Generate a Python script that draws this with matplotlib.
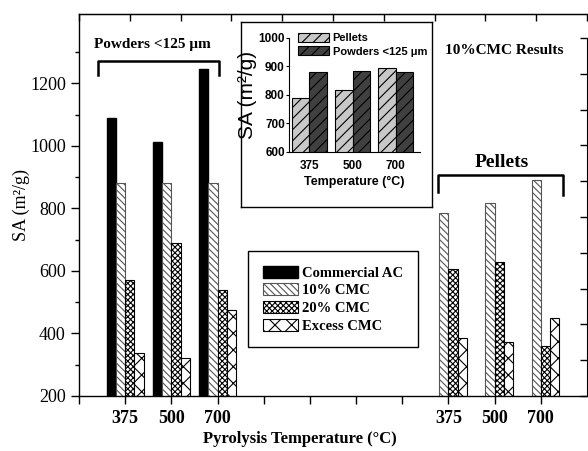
import matplotlib
matplotlib.use('Agg')
import matplotlib.pyplot as plt
import numpy as np

temps = ['375', '500', '700']
powder_ac = [1089, 1013, 1245]
powder_10 = [880, 882, 880]
powder_20 = [572, 690, 540]
powder_ex = [338, 322, 476]
pellet_10 = [787, 818, 892]
pellet_20 = [605, 629, 359]
pellet_ex = [384, 373, 451]

serif = 'Liberation Serif'
sans = 'Liberation Sans'
plt.rcParams['font.family'] = serif
plt.rcParams['hatch.linewidth'] = 0.8

fig = plt.figure(figsize=(5.88, 4.51), dpi=100)
ax = fig.add_axes([79 / 588, 1 - 396 / 451, 508 / 588, 382 / 451])

pw = np.array([1, 2, 3])
pp = np.array([8, 9, 10])
w = 0.2
ax.bar(pw - 0.3, powder_ac, w, color='black', edgecolor='black', label='Commercial AC')
ax.bar(pw - 0.1, powder_10, w, color='white', edgecolor='#555555', hatch='\\\\\\\\\\', lw=0.8, label='10% CMC')
ax.bar(pw + 0.1, powder_20, w, color='white', edgecolor='black', hatch='xxxxxx', lw=0.8, label='20% CMC')
ax.bar(pw + 0.3, powder_ex, w, color='white', edgecolor='black', hatch='xx', lw=0.8, label='Excess CMC')
ax.bar(pp - 0.1, pellet_10, w, color='white', edgecolor='#555555', hatch='\\\\\\\\\\', lw=0.8)
ax.bar(pp + 0.1, pellet_20, w, color='white', edgecolor='black', hatch='xxxxxx', lw=0.8)
ax.bar(pp + 0.3, pellet_ex, w, color='white', edgecolor='black', hatch='xx', lw=0.8)

ax.set_xlim(0, 11)
ax.set_ylim(200, 1422)
ax.set_xticks(range(0, 11))
ax.set_xticklabels(['', '375', '500', '700', '', '', '', '', '375', '500', '700'],
                   fontsize=13, fontweight='bold')
ax.set_yticks([200, 400, 600, 800, 1000, 1200])
ax.set_yticks(np.arange(300, 1400, 200), minor=True)
ax.tick_params(axis='y', labelsize=13, direction='out', length=6, width=1)
ax.tick_params(axis='y', which='minor', direction='out', length=3, width=1)
ax.tick_params(axis='x', direction='out', length=6, width=1, pad=4)
ax.spines['right'].set_visible(False)
for s in ['left', 'bottom', 'top']:
    ax.spines[s].set_linewidth(1.0)
ax.set_ylabel('SA (m²/g)', fontsize=13, labelpad=0)
ax.set_xlabel('Pyrolysis Temperature (°C)', fontsize=12, fontweight='bold', labelpad=3, x=0.435)

# top ticks
axt = ax.twiny()
axt.set_xlim(0, 10)
axt.set_xticks(range(0, 11))
axt.set_xticklabels([])
axt.tick_params(axis='x', direction='in', length=5, width=1)
# right ticks
axr = ax.twinx()
axr.set_ylim(0, 10.67)
axr.set_yticks(range(0, 11))
axr.set_yticklabels([])
axr.tick_params(axis='y', direction='in', length=5, width=1)
axr.spines['right'].set_bounds(0, 10)
for a in (axt, axr):
    a.spines['left'].set_visible(False)
    a.spines['bottom'].set_visible(False)
axt.spines['right'].set_visible(False)
axr.spines['top'].set_visible(False)

# brackets and annotations
ax.plot([0.41, 0.41, 3.03, 3.03], [1226, 1272, 1272, 1226], color='black', lw=1.8, clip_on=False)
ax.plot([7.77, 7.77, 10.48, 10.48], [853, 908, 908, 842], color='black', lw=1.8, clip_on=False)
ax.text(1.58, 1325, 'Powders <125 μm', ha='center', va='center', fontsize=11, fontweight='bold')
ax.text(9.16, 948, 'Pellets', ha='center', va='center', fontsize=14, fontweight='bold')
ax.text(9.2, 1306, '10%CMC Results', ha='center', va='center', fontsize=11, fontweight='bold')

leg = ax.legend(loc='upper left', bbox_to_anchor=((248 - 79) / 508, 1 - (251 - 14) / 382),
                borderaxespad=0,
                prop={'family': serif, 'weight': 'bold', 'size': 10.5},
                fancybox=False, edgecolor='black', framealpha=1, handlelength=2.4,
                handleheight=0.9, handletextpad=0.3, labelspacing=0.25, borderpad=1.0)
leg.get_frame().set_linewidth(1.0)

# inset frame
fr = fig.add_axes([241 / 588, 1 - 207 / 451, 191 / 588, 185 / 451])
fr.set_xticks([])
fr.set_yticks([])
for s in fr.spines.values():
    s.set_linewidth(1.0)

ins = fig.add_axes([289 / 588, 1 - 151.7 / 451, 131 / 588, 114 / 451])
ix = np.arange(3)
ins.bar(ix - 0.2, pellet_10, 0.4, color='#c8c8c8', edgecolor='black', hatch='///', lw=0.8, label='Pellets')
ins.bar(ix + 0.2, powder_10, 0.4, color='#404040', edgecolor='black', hatch='///', lw=0.8, label='Powders <125 μm')
ins.set_xlim(-0.47, 2.56)
ins.set_ylim(600, 1000)
ins.set_yticks([600, 700, 800, 900, 1000])
ins.set_xticks(ix)
ins.set_xticklabels(temps)
ins.tick_params(axis='x', length=0, pad=6)
ins.tick_params(axis='y', length=2, pad=1)
for lab in ins.get_xticklabels() + ins.get_yticklabels():
    lab.set_family(sans)
    lab.set_fontweight('bold')
    lab.set_fontsize(8.5)
ins.spines['top'].set_visible(False)
ins.spines['right'].set_visible(False)
ins.set_ylabel('SA (m²/g)', family=sans, fontsize=15, labelpad=1)
ins.set_xlabel('Temperature (°C)', family=sans, fontsize=9, fontweight='bold', labelpad=3)
ins.legend(loc='upper left', bbox_to_anchor=(0.02, 1.1), frameon=False,
           prop={'family': sans, 'weight': 'bold', 'size': 8},
           handlelength=2.8, handleheight=0.9, handletextpad=0.3, labelspacing=0.25,
           borderpad=0.1)

fig.savefig('out.png', dpi=100)
